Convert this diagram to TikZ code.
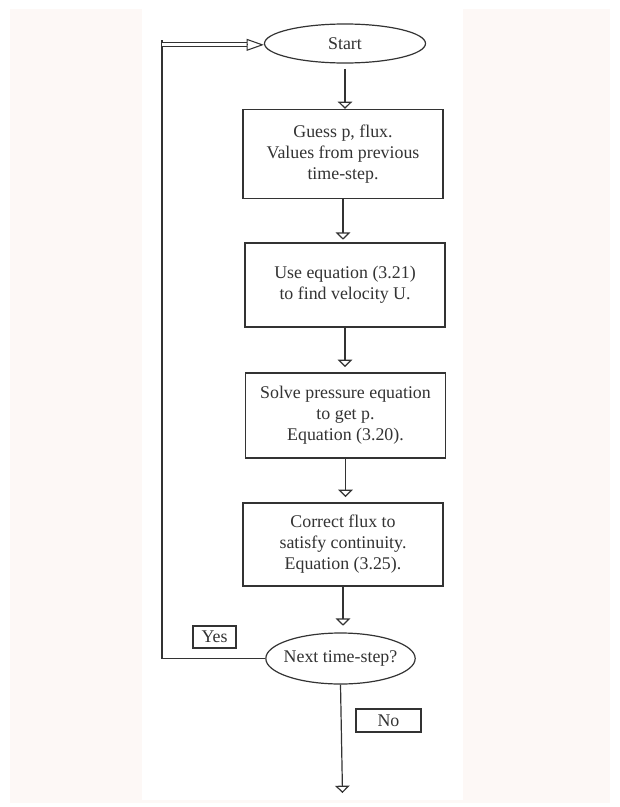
\documentclass[tikz,border=0pt]{standalone}
\usepackage{fontspec}
\setmainfont{Liberation Serif}
\usetikzlibrary{arrows.meta,shapes.geometric,positioning}
\definecolor{pale}{HTML}{FDF8F6}
\definecolor{ink}{HTML}{333333}
\begin{document}
\begin{tikzpicture}[x=0.75pt,y=-0.75pt,
  txt/.style={font=\fontsize{13.4}{15.75}\selectfont, text=ink, align=center},
  procbox/.style={txt, draw=ink, line width=0.9pt, rectangle, inner sep=0pt, minimum width=150pt},
  oval/.style={txt, draw=ink, line width=0.9pt, ellipse, inner sep=0pt},
  lbl/.style={txt, draw=ink, line width=0.8pt, rectangle, inner sep=0pt},
  flow/.style={draw=ink, line width=0.9pt, -{Triangle[open, width=11pt, length=5.5pt]}},
  loop/.style={draw=ink, line width=0.8pt}
]
\useasboundingbox (0,0) rectangle (620,807);
\fill[white] (0,0) rectangle (620,807);
\fill[pale] (10,9) rectangle (610,803);
\fill[white] (142,0) rectangle (463,800);

\node[oval, minimum width=120.75pt, minimum height=29.25pt] (start) at (345,43.5) {Start};
\node[procbox, minimum height=66.75pt] (b1) at (343,154) {Guess p, flux.\\Values from previous\\time-step.};
\node[procbox, minimum height=63pt] (b2) at (345,285) {Use equation (3.21)\\ to find velocity U.};
\node[procbox, minimum height=63.75pt] (b3) at (345.5,415.5) {Solve pressure equation\\to get p.\\ Equation (3.20).};
\node[procbox, minimum height=62.25pt] (b4) at (343,544.5) {Correct flux to\\satisfy continuity.\\Equation (3.25).};
\node[oval, inner xsep=-3pt, minimum width=110.25pt, minimum height=38.25pt] (q) at (340.5,658.5) {Next time-step?};
\node[lbl, minimum width=32.25pt, minimum height=16.5pt] (yes) at (214.5,637) {Yes};
\node[lbl, minimum width=48.75pt, minimum height=17.25pt] (no) at (388.5,720.5) {No};
\coordinate (loopTop) at (162,40);
\coordinate (finish) at (342.5,793);

\draw[flow, shorten <=4pt] (start.south) -- (start.south |- b1.north);
\draw[flow, shorten >=2pt] (b1.south) -- (b1.south |- b2.north);
\draw[flow, shorten >=4pt] (b2.south) -- (b2.south |- b3.north);
\draw[flow, shorten >=4pt] (b3.south) -- (b3.south |- b4.north);
\draw[flow, shorten >=5pt] (b4.south) -- (b4.south |- q.north);
\draw[flow] (q.south) -- (finish);

\draw[loop] (q.west) -| (loopTop);
\draw[loop, double=white, double distance=2.4pt, line width=0.6pt]
  ([yshift=-1pt]loopTop |- start.west) -- ([xshift=-13pt,yshift=-1pt]start.west);
\draw[draw=ink, line width=0.8pt, -{Triangle[open, width=9pt, length=13pt]}]
  ([xshift=-13pt,yshift=-1pt]start.west) -- ([yshift=-1pt]start.west);
\end{tikzpicture}
\end{document}
